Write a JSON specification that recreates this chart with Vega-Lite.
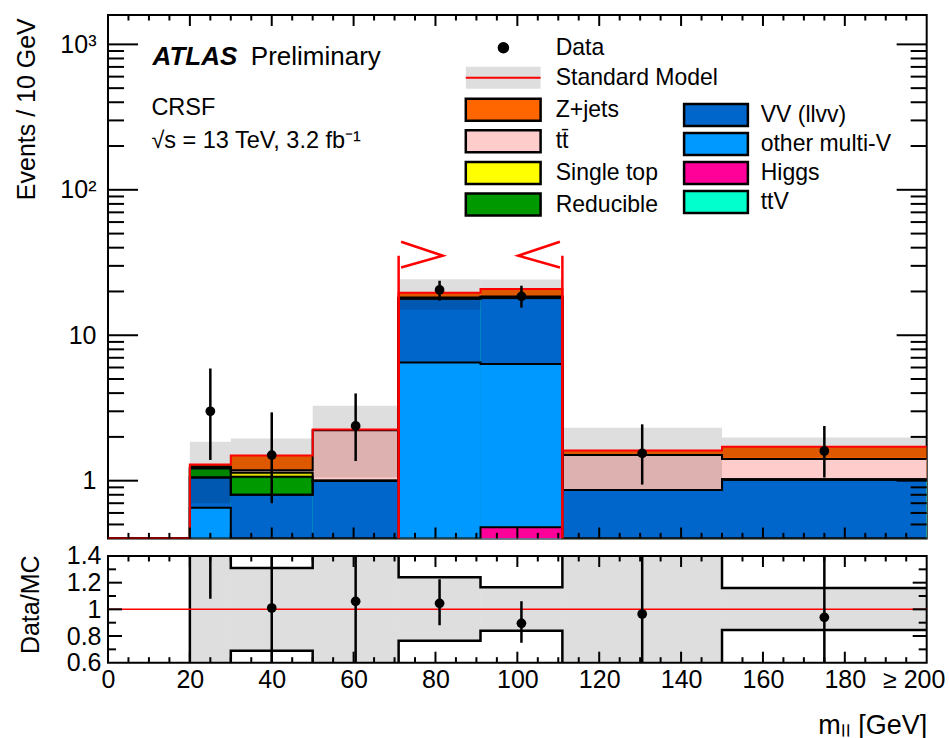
{
  "$schema": "https://vega.github.io/schema/vega-lite/v6.json",
  "background": "white",
  "padding": {"left": 14, "top": 13, "right": 4, "bottom": 4},
  "config": {
    "font": "Liberation Sans",
    "view": {"stroke": "black", "strokeWidth": 2},
    "axis": {"domain": false, "ticks": false, "grid": false, "labelColor": "black", "titleColor": "black", "labelFont": "Liberation Sans", "titleFont": "Liberation Sans", "labelFontSize": 25, "titleFontSize": 25, "titleFontWeight": "normal", "labelOverlap": false, "labelBound": false, "labelFlush": false},
    "legend": {"orient": "none", "padding": 0, "labelFont": "Liberation Sans", "labelFontSize": 23, "labelColor": "black", "labelLimit": 400}
  },
  "datasets": {
    "stack": [
      {"process": "Z+jets", "lo": 0, "hi": 20, "top": 0},
      {"process": "Z+jets", "lo": 20, "hi": 30, "top": 1.29},
      {"process": "Z+jets", "lo": 30, "hi": 50, "top": 1.49},
      {"process": "Z+jets", "lo": 50, "hi": 71, "top": 2.25},
      {"process": "Z+jets", "lo": 71, "hi": 91, "top": 19.6},
      {"process": "Z+jets", "lo": 91, "hi": 111, "top": 20.8},
      {"process": "Z+jets", "lo": 111, "hi": 150, "top": 1.61},
      {"process": "Z+jets", "lo": 150, "hi": 200, "top": 1.71},
      {"process": "tt̄", "lo": 0, "hi": 20, "top": 0},
      {"process": "tt̄", "lo": 20, "hi": 30, "top": 1.25},
      {"process": "tt̄", "lo": 30, "hi": 50, "top": 1.18},
      {"process": "tt̄", "lo": 50, "hi": 71, "top": 2.22},
      {"process": "tt̄", "lo": 71, "hi": 91, "top": 18.2},
      {"process": "tt̄", "lo": 91, "hi": 111, "top": 18.5},
      {"process": "tt̄", "lo": 111, "hi": 150, "top": 1.5},
      {"process": "tt̄", "lo": 150, "hi": 200, "top": 1.41},
      {"process": "Single top", "lo": 0, "hi": 20, "top": 0},
      {"process": "Single top", "lo": 20, "hi": 30, "top": 1.22},
      {"process": "Single top", "lo": 30, "hi": 50, "top": 1.135},
      {"process": "Single top", "lo": 50, "hi": 71, "top": 1.0},
      {"process": "Single top", "lo": 71, "hi": 91, "top": 17.95},
      {"process": "Single top", "lo": 91, "hi": 111, "top": 18.2},
      {"process": "Single top", "lo": 111, "hi": 150, "top": 0.863},
      {"process": "Single top", "lo": 150, "hi": 200, "top": 1.02},
      {"process": "Reducible", "lo": 0, "hi": 20, "top": 0},
      {"process": "Reducible", "lo": 20, "hi": 30, "top": 1.215},
      {"process": "Reducible", "lo": 30, "hi": 50, "top": 1.065},
      {"process": "Reducible", "lo": 50, "hi": 71, "top": 1.0},
      {"process": "Reducible", "lo": 71, "hi": 91, "top": 17.95},
      {"process": "Reducible", "lo": 91, "hi": 111, "top": 18.2},
      {"process": "Reducible", "lo": 111, "hi": 150, "top": 0.863},
      {"process": "Reducible", "lo": 150, "hi": 200, "top": 1.02},
      {"process": "ttV", "lo": 0, "hi": 20, "top": 0},
      {"process": "ttV", "lo": 20, "hi": 30, "top": 1.05},
      {"process": "ttV", "lo": 30, "hi": 50, "top": 0.8},
      {"process": "ttV", "lo": 50, "hi": 71, "top": 1.0},
      {"process": "ttV", "lo": 71, "hi": 91, "top": 17.9},
      {"process": "ttV", "lo": 91, "hi": 111, "top": 18.15},
      {"process": "ttV", "lo": 111, "hi": 150, "top": 0.863},
      {"process": "ttV", "lo": 150, "hi": 200, "top": 1.02},
      {"process": "VV (llvv)", "lo": 0, "hi": 20, "top": 0},
      {"process": "VV (llvv)", "lo": 20, "hi": 30, "top": 1.05},
      {"process": "VV (llvv)", "lo": 30, "hi": 50, "top": 0.8},
      {"process": "VV (llvv)", "lo": 50, "hi": 71, "top": 1.0},
      {"process": "VV (llvv)", "lo": 71, "hi": 91, "top": 17.9},
      {"process": "VV (llvv)", "lo": 91, "hi": 111, "top": 18.15},
      {"process": "VV (llvv)", "lo": 111, "hi": 150, "top": 0.863},
      {"process": "VV (llvv)", "lo": 150, "hi": 200, "top": 1.02},
      {"process": "other multi-V", "lo": 0, "hi": 20, "top": 0},
      {"process": "other multi-V", "lo": 20, "hi": 30, "top": 0.652},
      {"process": "other multi-V", "lo": 30, "hi": 50, "top": 0},
      {"process": "other multi-V", "lo": 50, "hi": 71, "top": 0},
      {"process": "other multi-V", "lo": 71, "hi": 91, "top": 6.5},
      {"process": "other multi-V", "lo": 91, "hi": 111, "top": 6.34},
      {"process": "other multi-V", "lo": 111, "hi": 150, "top": 0},
      {"process": "other multi-V", "lo": 150, "hi": 200, "top": 0},
      {"process": "Higgs", "lo": 0, "hi": 20, "top": 0},
      {"process": "Higgs", "lo": 20, "hi": 30, "top": 0},
      {"process": "Higgs", "lo": 30, "hi": 50, "top": 0},
      {"process": "Higgs", "lo": 50, "hi": 71, "top": 0},
      {"process": "Higgs", "lo": 71, "hi": 91, "top": 0},
      {"process": "Higgs", "lo": 91, "hi": 111, "top": 0.478},
      {"process": "Higgs", "lo": 111, "hi": 150, "top": 0},
      {"process": "Higgs", "lo": 150, "hi": 200, "top": 0}
    ],
    "band": [
      {"lo": 20, "hi": 30, "dn": 0.7, "up": 1.85},
      {"lo": 30, "hi": 50, "dn": 1.03, "up": 1.95},
      {"lo": 50, "hi": 71, "dn": 1.05, "up": 3.28},
      {"lo": 71, "hi": 91, "dn": 15.0, "up": 24.3},
      {"lo": 91, "hi": 111, "dn": 17.5, "up": 24.2},
      {"lo": 111, "hi": 150, "dn": 0.87, "up": 2.31},
      {"lo": 150, "hi": 200, "dn": 1.445, "up": 1.98}
    ],
    "obs": [
      {"m": 25, "n": 3.0, "lo": 1.39, "hi": 5.91},
      {"m": 40, "n": 1.5, "lo": 0.7, "hi": 2.95},
      {"m": 60.5, "n": 2.38, "lo": 1.365, "hi": 3.98},
      {"m": 81, "n": 20.5, "lo": 17.3, "hi": 23.7},
      {"m": 101, "n": 18.5, "lo": 15.5, "hi": 21.9},
      {"m": 130.5, "n": 1.54, "lo": 0.94, "hi": 2.44},
      {"m": 175, "n": 1.6, "lo": 1.05, "hi": 2.38}
    ],
    "ratio": [
      {"m": 25, "r": 2.33, "lo": 1.08, "hi": 4.58},
      {"m": 40, "r": 1.01, "lo": 0.47, "hi": 1.98},
      {"m": 60.5, "r": 1.06, "lo": 0.58, "hi": 1.77},
      {"m": 81, "r": 1.045, "lo": 0.88, "hi": 1.225},
      {"m": 101, "r": 0.895, "lo": 0.75, "hi": 1.06},
      {"m": 130.5, "r": 0.965, "lo": 0.58, "hi": 1.52},
      {"m": 175, "r": 0.94, "lo": 0.58, "hi": 1.42}
    ],
    "rband": [
      {"lo": 0, "hi": 20, "dn": 0, "up": 0},
      {"lo": 20, "hi": 30, "dn": 0.54, "up": 1.44},
      {"lo": 30, "hi": 50, "dn": 0.69, "up": 1.31},
      {"lo": 50, "hi": 71, "dn": 0.47, "up": 1.47},
      {"lo": 71, "hi": 91, "dn": 0.765, "up": 1.24},
      {"lo": 91, "hi": 111, "dn": 0.84, "up": 1.165},
      {"lo": 111, "hi": 150, "dn": 0.54, "up": 1.44},
      {"lo": 150, "hi": 200, "dn": 0.845, "up": 1.16}
    ],
    "cut": [
      {"seg": "L", "i": 0, "m": 71, "v": 0},
      {"seg": "L", "i": 1, "m": 71, "v": 35.2},
      {"seg": "La", "i": 0, "m": 71.6, "v": 43.9},
      {"seg": "La", "i": 1, "m": 81.8, "v": 35.2},
      {"seg": "La", "i": 2, "m": 71.6, "v": 29.2},
      {"seg": "R", "i": 0, "m": 111, "v": 0},
      {"seg": "R", "i": 1, "m": 111, "v": 35.2},
      {"seg": "Ra", "i": 0, "m": 110.4, "v": 43.9},
      {"seg": "Ra", "i": 1, "m": 100.2, "v": 35.2},
      {"seg": "Ra", "i": 2, "m": 110.4, "v": 29.2}
    ],
    "xmaj": [{"t": 20}, {"t": 40}, {"t": 60}, {"t": 80}, {"t": 100}, {"t": 120}, {"t": 140}, {"t": 160}, {"t": 180}],
    "xmin": [{"t": 5}, {"t": 10}, {"t": 15}, {"t": 25}, {"t": 30}, {"t": 35}, {"t": 45}, {"t": 50}, {"t": 55}, {"t": 65}, {"t": 70}, {"t": 75}, {"t": 85}, {"t": 90}, {"t": 95}, {"t": 105}, {"t": 110}, {"t": 115}, {"t": 125}, {"t": 130}, {"t": 135}, {"t": 145}, {"t": 150}, {"t": 155}, {"t": 165}, {"t": 170}, {"t": 175}, {"t": 185}, {"t": 190}, {"t": 195}],
    "ymaj": [{"t": 1}, {"t": 10}, {"t": 100}, {"t": 1000}],
    "ymin": [{"t": 0.5}, {"t": 0.6}, {"t": 0.7}, {"t": 0.8}, {"t": 0.9}, {"t": 2}, {"t": 3}, {"t": 4}, {"t": 5}, {"t": 6}, {"t": 7}, {"t": 8}, {"t": 9}, {"t": 20}, {"t": 30}, {"t": 40}, {"t": 50}, {"t": 60}, {"t": 70}, {"t": 80}, {"t": 90}, {"t": 200}, {"t": 300}, {"t": 400}, {"t": 500}, {"t": 600}, {"t": 700}, {"t": 800}, {"t": 900}],
    "rmaj": [{"t": 0.8}, {"t": 1.0}, {"t": 1.2}],
    "rmin": [{"t": 0.7}, {"t": 0.9}, {"t": 1.1}, {"t": 1.3}]
  },
  "bounds": "flush",
  "spacing": 17,
  "resolve": {"scale": {"fill": "independent", "color": "independent", "shape": "independent", "stroke": "independent", "opacity": "independent"}},
  "vconcat": [
    {
      "width": 818.7,
      "height": 523.4,
      "resolve": {"axis": {"x": "independent", "y": "independent"}},
      "layer": [
        {
          "data": {"name": "stack"},
          "transform": [{"filter": {"field": "process", "oneOf": ["Z+jets", "tt̄", "Single top", "Reducible"]}}],
          "mark": {"type": "rect", "clip": true},
          "encoding": {
            "x": {"field": "lo", "type": "quantitative", "scale": {"domain": [0, 200], "nice": false, "zero": false},
              "axis": {"orient": "bottom", "labels": false, "title": null, "values": [0, 200]}},
            "x2": {"field": "hi"},
            "y": {"field": "top", "type": "quantitative", "scale": {"type": "log", "domain": [0.401, 1592], "nice": false, "clamp": true},
              "axis": {"orient": "left", "values": [1, 10, 100, 1000],
                "labelExpr": "datum.value == 1 ? '1' : datum.value == 10 ? '10' : datum.value == 100 ? '10²' : '10³'",
                "labelPadding": 12,
                "title": "Events / 10 GeV", "titleAngle": 270, "titleAlign": "right", "titleBaseline": "alphabetic", "titleX": -73, "titleY": 2.7}},
            "y2": {"datum": 0},
            "fill": {"field": "process", "type": "nominal",
              "scale": {"domain": ["Z+jets", "tt̄", "Single top", "Reducible"], "range": ["#ff6600", "#ffcccc", "#ffff00", "#009900"]},
              "legend": {"title": null, "legendX": 382.7, "legendY": 82.2, "symbolType": "M-3.4,-1H3.4V1H-3.4Z", "symbolSize": 484, "symbolStrokeColor": "black", "symbolStrokeWidth": 2.5, "symbolOpacity": 1, "labelOffset": 40, "rowPadding": -1.4}}
          }
        },
        {
          "data": {"name": "stack"},
          "transform": [{"filter": {"field": "process", "oneOf": ["ttV", "VV (llvv)", "other multi-V", "Higgs"]}}],
          "mark": {"type": "rect", "clip": true},
          "encoding": {
            "x": {"field": "lo", "type": "quantitative", "scale": {"domain": [0, 200], "nice": false, "zero": false}, "axis": null},
            "x2": {"field": "hi"},
            "y": {"field": "top", "type": "quantitative", "scale": {"type": "log", "domain": [0.401, 1592], "nice": false, "clamp": true}, "axis": null},
            "y2": {"datum": 0},
            "color": {"field": "process", "type": "nominal",
              "scale": {"domain": ["VV (llvv)", "other multi-V", "Higgs", "ttV"], "range": ["#0066cc", "#0099ff", "#ff0099", "#00ffcc"]},
              "legend": {"title": null, "legendX": 595.5, "legendY": 87.6, "symbolType": "M-2.9,-1H2.9V1H-2.9Z", "symbolSize": 484, "symbolStrokeColor": "black", "symbolStrokeWidth": 2.5, "symbolOpacity": 1, "labelOffset": 32.2, "rowPadding": -4.3}}
          }
        },
        {
          "data": {"name": "band"},
          "mark": {"type": "rect", "clip": true, "fill": "#000000"},
          "encoding": {
            "x": {"field": "lo", "type": "quantitative", "scale": {"domain": [0, 200], "nice": false, "zero": false}, "axis": null},
            "x2": {"field": "hi"},
            "y": {"field": "dn", "type": "quantitative", "scale": {"type": "log", "domain": [0.401, 1592], "nice": false, "clamp": true}, "axis": null},
            "y2": {"field": "up"},
            "opacity": {"datum": "SM band", "type": "nominal", "scale": {"type": "ordinal", "domain": ["SM band"], "range": [0.13]},
              "legend": {"title": null, "legendX": 383.7, "legendY": 51.2, "symbolType": "M-3.4,-1H3.4V1H-3.4Z", "symbolSize": 484, "symbolFillColor": "#000000", "symbolStrokeWidth": 0, "labelExpr": "''"}}
          }
        },
        {
          "data": {"name": "stack"},
          "transform": [{"filter": "datum.process !== 'Z+jets'"}, {"fold": ["lo", "hi"], "as": ["side", "edge"]}],
          "mark": {"type": "line", "color": "black", "strokeWidth": 2, "clip": true},
          "encoding": {
            "x": {"field": "edge", "type": "quantitative", "scale": {"domain": [0, 200], "nice": false, "zero": false}, "axis": null},
            "y": {"field": "top", "type": "quantitative", "scale": {"type": "log", "domain": [0.401, 1592], "nice": false, "clamp": true}, "axis": null},
            "detail": {"field": "process", "type": "nominal"},
            "order": [{"field": "edge", "type": "quantitative"}, {"field": "side", "type": "nominal"}]
          }
        },
        {
          "data": {"name": "stack"},
          "transform": [{"filter": "datum.process === 'Z+jets'"}, {"fold": ["lo", "hi"], "as": ["side", "edge"]}],
          "mark": {"type": "line", "strokeWidth": 2, "clip": true},
          "encoding": {
            "x": {"field": "edge", "type": "quantitative", "scale": {"domain": [0, 200], "nice": false, "zero": false}, "axis": null},
            "y": {"field": "top", "type": "quantitative", "scale": {"type": "log", "domain": [0.401, 1592], "nice": false, "clamp": true}, "axis": null},
            "order": [{"field": "edge", "type": "quantitative"}, {"field": "side", "type": "nominal"}],
            "stroke": {"datum": "Standard Model", "type": "nominal", "scale": {"domain": ["Standard Model"], "range": ["#ff0000"]},
              "legend": {"title": null, "legendX": 383.2, "legendY": 50.7, "symbolType": "M-3.4,0H3.4", "symbolSize": 484, "symbolStrokeWidth": 2, "labelOffset": 40.5}}
          }
        },
        {
          "data": {"name": "cut"},
          "mark": {"type": "line", "color": "#ff0000", "strokeWidth": 2.5, "clip": true},
          "encoding": {
            "x": {"field": "m", "type": "quantitative", "scale": {"domain": [0, 200], "nice": false, "zero": false}, "axis": null},
            "y": {"field": "v", "type": "quantitative", "scale": {"type": "log", "domain": [0.401, 1592], "nice": false, "clamp": true}, "axis": null},
            "detail": {"field": "seg", "type": "nominal"},
            "order": {"field": "i", "type": "quantitative"}
          }
        },
        {
          "data": {"name": "obs"},
          "mark": {"type": "rule", "color": "black", "strokeWidth": 2.5, "clip": true},
          "encoding": {
            "x": {"field": "m", "type": "quantitative", "scale": {"domain": [0, 200], "nice": false, "zero": false}, "axis": null},
            "y": {"field": "lo", "type": "quantitative", "scale": {"type": "log", "domain": [0.401, 1592], "nice": false, "clamp": true}, "axis": null},
            "y2": {"field": "hi"}
          }
        },
        {
          "data": {"name": "obs"},
          "mark": {"type": "point", "filled": true, "color": "black", "size": 95, "opacity": 1, "clip": true},
          "encoding": {
            "x": {"field": "m", "type": "quantitative", "scale": {"domain": [0, 200], "nice": false, "zero": false}, "axis": null},
            "y": {"field": "n", "type": "quantitative", "scale": {"type": "log", "domain": [0.401, 1592], "nice": false, "clamp": true}, "axis": null},
            "shape": {"datum": "Data", "type": "nominal", "scale": {"domain": ["Data"], "range": ["circle"]},
              "legend": {"title": null, "legendX": 383.9, "legendY": 21.2, "symbolSize": 133, "symbolFillColor": "black", "symbolStrokeWidth": 0, "labelOffset": 40.8}}
          }
        },
        {
          "data": {"name": "xmaj"},
          "mark": {"type": "rule", "color": "#000000", "strokeWidth": 2},
          "encoding": {
            "x": {"field": "t", "type": "quantitative", "scale": {"domain": [0, 200], "nice": false, "zero": false}, "axis": null},
            "y": {"datum": 0.401, "type": "quantitative", "scale": {"type": "log", "domain": [0.401, 1592], "nice": false, "clamp": true}, "axis": null},
            "y2": {"datum": 0.477}
          }
        },
        {
          "data": {"name": "xmin"},
          "mark": {"type": "rule", "color": "#000000", "strokeWidth": 2},
          "encoding": {
            "x": {"field": "t", "type": "quantitative", "scale": {"domain": [0, 200], "nice": false, "zero": false}, "axis": null},
            "y": {"datum": 0.401, "type": "quantitative", "scale": {"type": "log", "domain": [0.401, 1592], "nice": false, "clamp": true}, "axis": null},
            "y2": {"datum": 0.4376}
          }
        },
        {
          "data": {"name": "xmaj"},
          "mark": {"type": "rule", "color": "#000000", "strokeWidth": 2},
          "encoding": {
            "x": {"field": "t", "type": "quantitative", "scale": {"domain": [0, 200], "nice": false, "zero": false}, "axis": null},
            "y": {"datum": 1592, "type": "quantitative", "scale": {"type": "log", "domain": [0.401, 1592], "nice": false, "clamp": true}, "axis": null},
            "y2": {"datum": 1338}
          }
        },
        {
          "data": {"name": "xmin"},
          "mark": {"type": "rule", "color": "#000000", "strokeWidth": 2},
          "encoding": {
            "x": {"field": "t", "type": "quantitative", "scale": {"domain": [0, 200], "nice": false, "zero": false}, "axis": null},
            "y": {"datum": 1592, "type": "quantitative", "scale": {"type": "log", "domain": [0.401, 1592], "nice": false, "clamp": true}, "axis": null},
            "y2": {"datum": 1459}
          }
        },
        {
          "data": {"name": "ymaj"},
          "mark": {"type": "rule", "color": "#000000", "strokeWidth": 2},
          "encoding": {
            "y": {"field": "t", "type": "quantitative", "scale": {"type": "log", "domain": [0.401, 1592], "nice": false, "clamp": true}, "axis": null},
            "x": {"datum": 0, "type": "quantitative", "scale": {"domain": [0, 200], "nice": false, "zero": false}, "axis": null},
            "x2": {"datum": 7.34}
          }
        },
        {
          "data": {"name": "ymin"},
          "mark": {"type": "rule", "color": "#000000", "strokeWidth": 2},
          "encoding": {
            "y": {"field": "t", "type": "quantitative", "scale": {"type": "log", "domain": [0.401, 1592], "nice": false, "clamp": true}, "axis": null},
            "x": {"datum": 0, "type": "quantitative", "scale": {"domain": [0, 200], "nice": false, "zero": false}, "axis": null},
            "x2": {"datum": 3.92}
          }
        },
        {
          "data": {"name": "ymaj"},
          "mark": {"type": "rule", "color": "#000000", "strokeWidth": 2},
          "encoding": {
            "y": {"field": "t", "type": "quantitative", "scale": {"type": "log", "domain": [0.401, 1592], "nice": false, "clamp": true}, "axis": null},
            "x": {"datum": 192.66, "type": "quantitative", "scale": {"domain": [0, 200], "nice": false, "zero": false}, "axis": null},
            "x2": {"datum": 200}
          }
        },
        {
          "data": {"name": "ymin"},
          "mark": {"type": "rule", "color": "#000000", "strokeWidth": 2},
          "encoding": {
            "y": {"field": "t", "type": "quantitative", "scale": {"type": "log", "domain": [0.401, 1592], "nice": false, "clamp": true}, "axis": null},
            "x": {"datum": 196.08, "type": "quantitative", "scale": {"domain": [0, 200], "nice": false, "zero": false}, "axis": null},
            "x2": {"datum": 200}
          }
        },
        {
          "data": {"values": [{}]},
          "mark": {"type": "text", "text": "ATLAS", "font": "Liberation Sans", "fontSize": 26, "fontWeight": "bold", "fontStyle": "italic", "align": "left", "baseline": "alphabetic", "color": "black"},
          "encoding": {
            "x": {"datum": 10.9, "type": "quantitative", "scale": {"domain": [0, 200], "nice": false, "zero": false}, "axis": null},
            "y": {"datum": 721, "type": "quantitative", "scale": {"type": "log", "domain": [0.401, 1592], "nice": false, "clamp": true}, "axis": null}
          }
        },
        {
          "data": {"values": [{}]},
          "mark": {"type": "text", "text": "Preliminary", "font": "Liberation Sans", "fontSize": 26, "align": "left", "baseline": "alphabetic", "color": "black"},
          "encoding": {
            "x": {"datum": 34.9, "type": "quantitative", "scale": {"domain": [0, 200], "nice": false, "zero": false}, "axis": null},
            "y": {"datum": 721, "type": "quantitative", "scale": {"type": "log", "domain": [0.401, 1592], "nice": false, "clamp": true}, "axis": null}
          }
        },
        {
          "data": {"values": [{}]},
          "mark": {"type": "text", "text": "CRSF", "font": "Liberation Sans", "fontSize": 23.5, "align": "left", "baseline": "alphabetic", "color": "black"},
          "encoding": {
            "x": {"datum": 10.6, "type": "quantitative", "scale": {"domain": [0, 200], "nice": false, "zero": false}, "axis": null},
            "y": {"datum": 327, "type": "quantitative", "scale": {"type": "log", "domain": [0.401, 1592], "nice": false, "clamp": true}, "axis": null}
          }
        },
        {
          "data": {"values": [{}]},
          "mark": {"type": "text", "text": "√s = 13 TeV, 3.2 fb⁻¹", "font": "Liberation Sans", "fontSize": 23.5, "align": "left", "baseline": "alphabetic", "color": "black"},
          "encoding": {
            "x": {"datum": 10.6, "type": "quantitative", "scale": {"domain": [0, 200], "nice": false, "zero": false}, "axis": null},
            "y": {"datum": 193, "type": "quantitative", "scale": {"type": "log", "domain": [0.401, 1592], "nice": false, "clamp": true}, "axis": null}
          }
        }
      ]
    },
    {
      "width": 818.7,
      "height": 106.7,
      "resolve": {"axis": {"x": "independent", "y": "independent"}},
      "layer": [
        {
          "data": {"name": "rband"},
          "mark": {"type": "rect", "clip": true, "fill": "#000000", "opacity": 0.13},
          "encoding": {
            "x": {"field": "lo", "type": "quantitative", "scale": {"domain": [0, 200], "nice": false, "zero": false},
              "axis": {"orient": "bottom", "values": [0,20,40,60,80,100,120,140,160,180,200],
                "labelExpr": "datum.value === 200 ? '≥ 200' : datum.label",
                "labelOffset": {"condition": {"test": "datum.value === 200", "value": -13}, "value": 0},
                "labelPadding": 5,
                "title": "mₗₗ [GeV]", "titleFontSize": 27, "titleX": 818.7, "titleY": 71, "titleAlign": "right", "titleBaseline": "alphabetic"}},
            "x2": {"field": "hi"},
            "y": {"field": "dn", "type": "quantitative", "scale": {"domain": [0.6, 1.4], "nice": false, "zero": false},
              "axis": {"orient": "left", "values": [0.6, 0.8, 1, 1.2, 1.4],
                "labelExpr": "format(datum.value, '')",
                "labelPadding": 7,
                "title": "Data/MC", "titleAngle": 270, "titleAlign": "right", "titleBaseline": "alphabetic", "titleX": -69, "titleY": -1}},
            "y2": {"field": "up"}
          }
        },
        {
          "data": {"name": "rband"},
          "transform": [{"fold": ["dn", "up"], "as": ["which", "level"]}, {"fold": ["lo", "hi"], "as": ["side", "edge"]}],
          "mark": {"type": "line", "color": "black", "strokeWidth": 2.5, "clip": true},
          "encoding": {
            "x": {"field": "edge", "type": "quantitative", "scale": {"domain": [0, 200], "nice": false, "zero": false}, "axis": null},
            "y": {"field": "level", "type": "quantitative", "scale": {"domain": [0.6, 1.4], "nice": false, "zero": false}, "axis": null},
            "detail": {"field": "which", "type": "nominal"},
            "order": [{"field": "edge", "type": "quantitative"}, {"field": "side", "type": "nominal"}]
          }
        },
        {
          "data": {"values": [{}]},
          "mark": {"type": "rule", "color": "#ff0000", "strokeWidth": 1.5},
          "encoding": {
            "y": {"datum": 1, "type": "quantitative", "scale": {"domain": [0.6, 1.4], "nice": false, "zero": false}, "axis": null}
          }
        },
        {
          "data": {"name": "ratio"},
          "mark": {"type": "rule", "color": "black", "strokeWidth": 2.5, "clip": true},
          "encoding": {
            "x": {"field": "m", "type": "quantitative", "scale": {"domain": [0, 200], "nice": false, "zero": false}, "axis": null},
            "y": {"field": "lo", "type": "quantitative", "scale": {"domain": [0.6, 1.4], "nice": false, "zero": false}, "axis": null},
            "y2": {"field": "hi"}
          }
        },
        {
          "data": {"name": "ratio"},
          "mark": {"type": "point", "filled": true, "color": "black", "size": 95, "opacity": 1, "clip": true},
          "encoding": {
            "x": {"field": "m", "type": "quantitative", "scale": {"domain": [0, 200], "nice": false, "zero": false}, "axis": null},
            "y": {"field": "r", "type": "quantitative", "scale": {"domain": [0.6, 1.4], "nice": false, "zero": false}, "axis": null}
          }
        },
        {
          "data": {"name": "xmaj"},
          "mark": {"type": "rule", "color": "#000000", "strokeWidth": 2},
          "encoding": {
            "x": {"field": "t", "type": "quantitative", "scale": {"domain": [0, 200], "nice": false, "zero": false}, "axis": null},
            "y": {"datum": 0.6, "type": "quantitative", "scale": {"domain": [0.6, 1.4], "nice": false, "zero": false}, "axis": null},
            "y2": {"datum": 0.6825}
          }
        },
        {
          "data": {"name": "xmin"},
          "mark": {"type": "rule", "color": "#000000", "strokeWidth": 2},
          "encoding": {
            "x": {"field": "t", "type": "quantitative", "scale": {"domain": [0, 200], "nice": false, "zero": false}, "axis": null},
            "y": {"datum": 0.6, "type": "quantitative", "scale": {"domain": [0.6, 1.4], "nice": false, "zero": false}, "axis": null},
            "y2": {"datum": 0.6412}
          }
        },
        {
          "data": {"name": "xmaj"},
          "mark": {"type": "rule", "color": "#000000", "strokeWidth": 2},
          "encoding": {
            "x": {"field": "t", "type": "quantitative", "scale": {"domain": [0, 200], "nice": false, "zero": false}, "axis": null},
            "y": {"datum": 1.4, "type": "quantitative", "scale": {"domain": [0.6, 1.4], "nice": false, "zero": false}, "axis": null},
            "y2": {"datum": 1.3175}
          }
        },
        {
          "data": {"name": "xmin"},
          "mark": {"type": "rule", "color": "#000000", "strokeWidth": 2},
          "encoding": {
            "x": {"field": "t", "type": "quantitative", "scale": {"domain": [0, 200], "nice": false, "zero": false}, "axis": null},
            "y": {"datum": 1.4, "type": "quantitative", "scale": {"domain": [0.6, 1.4], "nice": false, "zero": false}, "axis": null},
            "y2": {"datum": 1.3588}
          }
        },
        {
          "data": {"name": "rmaj"},
          "mark": {"type": "rule", "color": "#000000", "strokeWidth": 2},
          "encoding": {
            "y": {"field": "t", "type": "quantitative", "scale": {"domain": [0.6, 1.4], "nice": false, "zero": false}, "axis": null},
            "x": {"datum": 0, "type": "quantitative", "scale": {"domain": [0, 200], "nice": false, "zero": false}, "axis": null},
            "x2": {"datum": 3.42}
          }
        },
        {
          "data": {"name": "rmin"},
          "mark": {"type": "rule", "color": "#000000", "strokeWidth": 2},
          "encoding": {
            "y": {"field": "t", "type": "quantitative", "scale": {"domain": [0.6, 1.4], "nice": false, "zero": false}, "axis": null},
            "x": {"datum": 0, "type": "quantitative", "scale": {"domain": [0, 200], "nice": false, "zero": false}, "axis": null},
            "x2": {"datum": 1.95}
          }
        },
        {
          "data": {"name": "rmaj"},
          "mark": {"type": "rule", "color": "#000000", "strokeWidth": 2},
          "encoding": {
            "y": {"field": "t", "type": "quantitative", "scale": {"domain": [0.6, 1.4], "nice": false, "zero": false}, "axis": null},
            "x": {"datum": 196.58, "type": "quantitative", "scale": {"domain": [0, 200], "nice": false, "zero": false}, "axis": null},
            "x2": {"datum": 200}
          }
        },
        {
          "data": {"name": "rmin"},
          "mark": {"type": "rule", "color": "#000000", "strokeWidth": 2},
          "encoding": {
            "y": {"field": "t", "type": "quantitative", "scale": {"domain": [0.6, 1.4], "nice": false, "zero": false}, "axis": null},
            "x": {"datum": 198.05, "type": "quantitative", "scale": {"domain": [0, 200], "nice": false, "zero": false}, "axis": null},
            "x2": {"datum": 200}
          }
        }
      ]
    }
  ]
}
